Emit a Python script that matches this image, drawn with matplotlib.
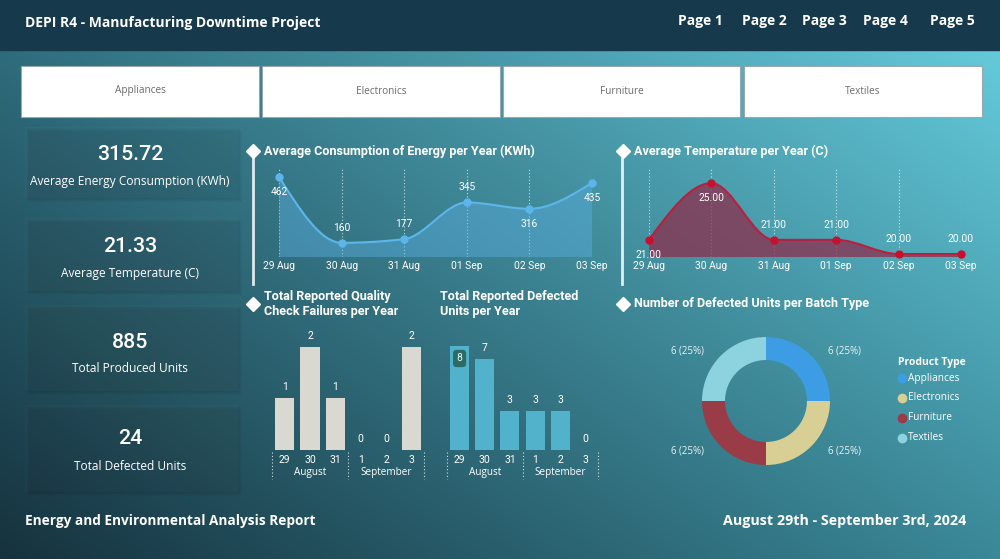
import numpy as np
import matplotlib
matplotlib.use("Agg")
import matplotlib.pyplot as plt
from matplotlib.path import Path
from matplotlib.patches import PathPatch, Rectangle

# ---------------- data ----------------
dates = ["29 Aug", "30 Aug", "31 Aug", "01 Sep", "02 Sep", "03 Sep"]
energy = [462, 160, 177, 345, 316, 435]
energy_pos = ["below", "above", "above", "above", "below", "below"]
temperature = [21.0, 25.0, 21.0, 21.0, 20.0, 20.0]
temp_pos = ["below", "below", "above", "above", "above", "above"]
day_labels = ["29", "30", "31", "1", "2", "3"]
month_groups = ["August", "September"]
qc_failures = [1, 2, 1, 0, 0, 2]
defected_units = [8, 7, 3, 3, 3, 0]
product_types = ["Appliances", "Electronics", "Furniture", "Textiles"]
defects_by_type = [6, 6, 6, 6]
kpi_values = ["315.72", "21.33", "885", "24"]
kpi_labels = ["Average Energy Consumption (KWh)", "Average Temperature (C)",
              "Total Produced Units", "Total Defected Units"]
pages = ["Page 1", "Page 2", "Page 3", "Page 4", "Page 5"]

W, H = 1000, 559
fig = plt.figure(figsize=(10, 5.59), dpi=100)

def add_ax(x0, y0, x1, y1):
    return fig.add_axes([x0 / W, 1 - y1 / H, (x1 - x0) / W, (y1 - y0) / H])

TF = "Roboto"
BF = "Open Sans"

# ---------------- background ----------------
bg = fig.add_axes([0, 0, 1, 1])
bg.set_xlim(0, W); bg.set_ylim(H, 0); bg.axis("off")
u = np.linspace(0, 1, 400)[None, :]
v = np.linspace(0, 1, 250)[:, None]
TL = np.array([46, 108, 124]); TR = np.array([100, 202, 218])
BL = np.array([22, 50, 62]); BR = np.array([58, 136, 152])
img = (TL * ((1 - u) * (1 - v))[..., None] + TR * (u * (1 - v))[..., None]
       + BL * ((1 - u) * v)[..., None] + BR * (u * v)[..., None]) / 255.0
bg.imshow(np.clip(img, 0, 1), extent=(0, W, H, 50), aspect="auto", zorder=0)

# header
bg.add_patch(Rectangle((0, 0), W, 50, color="#163a4c", zorder=1))
bg.text(25, 23, "DEPI R4 - Manufacturing Downtime Project", color="white",
        fontsize=10, fontweight="bold", family=BF, va="center", ha="left", zorder=2)
for p, cx in zip(pages, [700, 764, 824, 885, 952]):
    bg.text(cx, 21, p, color="white", fontsize=10, fontweight="bold", family=BF,
            va="center", ha="center", zorder=2)

# slicers
for name, (x0, x1) in zip(product_types, [(21, 259), (262, 500), (503, 740), (744, 982)]):
    bg.add_patch(Rectangle((x0, 66), x1 - x0, 51, facecolor="white",
                           edgecolor="#9aa7ad", lw=0.8, zorder=2))
    bg.text((x0 + x1) / 2, 91, name, color="#6b6b6b", fontsize=7.2, family=BF,
            va="center", ha="center", zorder=3)

# KPI cards
cards = [(127, 198), (218, 291), (305, 391), (405, 492)]
val_y = [155, 246, 342, 439]
lab_y = [181, 273, 369, 466]
for (y0, y1), val, lab, vy, ly in zip(cards, kpi_values, kpi_labels, val_y, lab_y):
    for k in range(1, 5):
        bg.add_patch(Rectangle((25 + k, y0 + k), 213, y1 - y0, color="black",
                               alpha=0.025, lw=0, zorder=1))
    bg.add_patch(Rectangle((25, y0), 213, y1 - y0, color="white", alpha=0.02, lw=0, zorder=1))
    bg.text(130, vy, val, color="white", fontsize=15.3, fontweight="medium",
            family=TF, va="center", ha="center", zorder=3)
    bg.text(130, ly, lab, color="white", fontsize=8.6, family=BF,
            va="center", ha="center", zorder=3)

# chart titles, diamonds
def title(x, y, s, diamond=True):
    if diamond:
        bg.plot([x - 11], [y], marker="D", ms=7, color="white", mec="white", zorder=3)
    bg.text(x, y, s, color="white", fontsize=9.1, fontweight="bold", family=TF,
            va="center", ha="left", zorder=3, linespacing=1.2)

bg.plot([253, 253], [152, 284], color="white", lw=2, alpha=0.85, zorder=2)
bg.plot([622, 622], [152, 284], color="white", lw=2, alpha=0.85, zorder=2)
title(264, 151, "Average Consumption of Energy per Year (KWh)")
title(634, 151, "Average Temperature per Year (C)")
title(264, 304, "Total Reported Quality\nCheck Failures per Year")
title(440, 304, "Total Reported Defected\nUnits per Year", diamond=False)
title(634, 304, "Number of Defected Units per Batch Type")

# footer
bg.text(25, 521, "Energy and Environmental Analysis Report", color="white", fontsize=9.8,
        fontweight="bold", family=BF, va="center", ha="left")
bg.text(966, 521, "August 29th - September 3rd, 2024", color="white", fontsize=10.3,
        fontweight="bold", family=BF, va="center", ha="right")

# ---------------- smooth monotone path ----------------
def monotone_bezier(x, y):
    x = np.asarray(x, float); y = np.asarray(y, float)
    n = len(x); h = np.diff(x); d = np.diff(y) / h
    m = np.zeros(n)
    for i in range(1, n - 1):
        if d[i - 1] * d[i] <= 0:
            m[i] = 0
        else:
            s = (d[i - 1] * h[i] + d[i] * h[i - 1]) / (h[i - 1] + h[i])
            m[i] = (np.sign(d[i - 1]) + np.sign(d[i])) * min(abs(d[i - 1]), abs(d[i]), 0.5 * abs(s))
    m[0] = (3 * d[0] - m[1]) / 2 if n > 2 else d[0]
    m[-1] = (3 * d[-1] - m[-2]) / 2 if n > 2 else d[-1]
    verts = [(x[0], y[0])]; codes = [Path.MOVETO]
    for i in range(n - 1):
        verts += [(x[i] + h[i] / 3, y[i] + m[i] * h[i] / 3),
                  (x[i + 1] - h[i] / 3, y[i + 1] - m[i + 1] * h[i] / 3),
                  (x[i + 1], y[i + 1])]
        codes += [Path.CURVE4] * 3
    return verts, codes

def line_area(ax, vals, ylim, lc, mc, fc, falpha, labels, pos, fmt):
    xs = np.arange(len(vals))
    ax.set_xlim(0, len(vals) - 1); ax.set_ylim(*ylim)
    verts, codes = monotone_bezier(xs, vals)
    fv = verts + [(xs[-1], ylim[0]), (xs[0], ylim[0]), (xs[0], ylim[0])]
    fcd = codes + [Path.LINETO, Path.LINETO, Path.CLOSEPOLY]
    ax.add_patch(PathPatch(Path(fv, fcd), facecolor=fc, edgecolor="none", alpha=falpha, zorder=2))
    ax.add_patch(PathPatch(Path(verts, codes), facecolor="none", edgecolor=lc, lw=1.5, zorder=3))
    ax.plot(xs, vals, "o", color=mc, ms=5, zorder=4, clip_on=False)
    for xi, v_, p in zip(xs, vals, pos):
        off = 11 if p == "above" else -11
        ax.annotate(fmt(v_), (xi, v_), xytext=(0, off), textcoords="offset points",
                    ha="center", va="center", color="white", fontsize=7.4, family=TF,
                    zorder=5, annotation_clip=False)
    ax.set_xticks(xs, labels)
    ax.set_yticks([])
    ax.tick_params(axis="x", length=0, pad=3, labelsize=7.4, labelcolor="white")
    for lab in ax.get_xticklabels():
        lab.set_family(TF)
    ax.grid(axis="x", color="white", linestyle=(0, (1, 2)), lw=0.8, alpha=0.7)
    for s in ax.spines.values():
        s.set_visible(False)
    ax.patch.set_alpha(0)

ax1 = add_ax(279, 168, 592, 257)
line_area(ax1, energy, (95, 503), "#5db6ea", "#5db6ea", "#5aaee2", 0.45,
          dates, energy_pos, lambda v_: f"{v_:d}")
ax2 = add_ax(649, 168, 961, 257)
line_area(ax2, temperature, (19.79, 26.07), "#b82040", "#c8102e", "#902a4a", 0.72,
          dates, temp_pos, lambda v_: f"{v_:.2f}")

# ---------------- bar charts ----------------
def bar_chart(ax, vals, ylim, color, x0, x1, inside_first=False):
    xs = np.arange(len(vals))
    ax.bar(xs, vals, width=0.76, color=color, zorder=2)
    ax.set_xlim(-0.5, len(vals) - 0.5); ax.set_ylim(*ylim)
    for xi, v_ in zip(xs, vals):
        if inside_first and v_ == max(vals):
            ax.annotate(str(v_), (xi, v_), xytext=(0, -9), textcoords="offset points",
                        ha="center", va="center", color="#e8f4f2", fontsize=7.5, family=TF,
                        bbox=dict(boxstyle="round,pad=0.35", fc="#2b6b66", ec="none"), zorder=5)
        else:
            ax.annotate(str(v_), (xi, v_), xytext=(0, 8), textcoords="offset points",
                        ha="center", va="center", color="white", fontsize=7.5, family=TF,
                        zorder=5, annotation_clip=False)
    ax.set_xticks(xs, day_labels)
    ax.set_yticks([])
    ax.tick_params(axis="x", length=0, pad=3.5, labelsize=7.5, labelcolor="white")
    for lab in ax.get_xticklabels():
        lab.set_family(TF)
    for s in ax.spines.values():
        s.set_visible(False)
    ax.patch.set_alpha(0)
    step = (x1 - x0) / len(vals)
    for k in (0, 3, 6):
        xx = x0 + k * step
        bg.plot([xx, xx], [452, 479], color="white", lw=0.8, linestyle=(0, (1, 2)), alpha=0.8)
    for g, name in enumerate(month_groups):
        bg.text(x0 + (1.5 + 3 * g) * step, 472, name, color="white", fontsize=7.2,
                family=BF, ha="center", va="center")

ax3 = add_ax(272, 330, 424, 450)
bar_chart(ax3, qc_failures, (0, 2.33), "#d9d9d1", 272, 424)
ax4 = add_ax(447, 330, 598, 450)
bar_chart(ax4, defected_units, (0, 9.23), "#52b2cc", 447, 598, inside_first=True)

# ---------------- donut ----------------
R = 64.0
ax5 = add_ax(766 - 100, 401 - 100, 766 + 100, 401 + 100)
pie_colors = ["#3d9de4", "#d8cf95", "#9a3c47", "#8dd3df"]
wedges, _ = ax5.pie(defects_by_type, colors=pie_colors, startangle=90, counterclock=False,
                    radius=1.0, wedgeprops=dict(width=0.36, edgecolor="none"))
ax5.set_xlim(-100 / R, 100 / R); ax5.set_ylim(-100 / R, 100 / R)
ax5.set_aspect("equal"); ax5.axis("off")
total = sum(defects_by_type)
for w_, val in zip(wedges, defects_by_type):
    mid = np.deg2rad((w_.theta1 + w_.theta2) / 2)
    ax5.text(1.73 * np.cos(mid), 1.1 * np.sin(mid), f"{val} ({val / total:.0%})",
             color="#e8f2f4", fontsize=7, family=BF, ha="center", va="center")

bg.text(898, 362, "Product Type", color="white", fontsize=7.5, fontweight="bold",
        family=BF, ha="left", va="center")
for i, (name, c) in enumerate(zip(product_types, pie_colors)):
    yy = 378 + i * 20
    bg.plot([902], [yy], "o", color=c, ms=6)
    bg.text(908, yy, name, color="white", fontsize=7.3, family=BF, ha="left", va="center")

fig.savefig("out.png", dpi=100)
